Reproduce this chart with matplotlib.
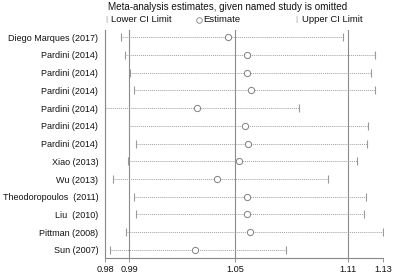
import matplotlib
matplotlib.use("Agg")
import matplotlib.pyplot as plt

studies = ["Diego Marques (2017)", "Pardini (2014)", "Pardini (2014)", "Pardini (2014)",
           "Pardini (2014)", "Pardini (2014)", "Pardini (2014)", "Xiao (2013)", "Wu (2013)",
           "Theodoropoulos  (2011)", "Liu  (2010)", "Pittman (2008)", "Sun (2007)"]
lower = [0.9895, 0.9916, 0.9942, 0.9964, 0.9810, 0.9937, 0.9974, 0.9932, 0.9852,
         0.9964, 0.9974, 0.9921, 0.9836]
estimate = [1.0463, 1.0564, 1.0564, 1.0585, 1.0298, 1.0553, 1.0569, 1.0521, 1.0404,
            1.0564, 1.0564, 1.0580, 1.0288]
upper = [1.1074, 1.1244, 1.1222, 1.1244, 1.0840, 1.1206, 1.1201, 1.1148, 1.0994,
         1.1196, 1.1185, 1.1286, 1.0771]

# overall estimate and CI (reference lines), plus axis ends
ref_lines = [0.9937, 1.05, 1.11]
tick_vals = [0.981, 0.9937, 1.05, 1.11, 1.1286]
tick_labels = ["0.98", "0.99", "1.05", "1.11", "1.13"]

plt.rcParams['font.family'] = ['Liberation Sans', 'DejaVu Sans']
fig = plt.figure(figsize=(3.98, 2.75), dpi=100)
ax = fig.add_axes([0.264, 0.062, 0.698, 0.829])

y = list(range(1, len(studies) + 1))
lc = "#a0a0a0"
for i in range(len(studies)):
    ax.plot([lower[i], upper[i]], [y[i], y[i]], ls=(0, (1, 1)), color=lc, lw=0.7)
ax.plot(lower, y, ls="none", marker="|", ms=6, mew=0.8, color="#999999")
ax.plot(upper, y, ls="none", marker="|", ms=6, mew=0.8, color="#999999")
ax.plot(estimate, y, ls="none", marker="o", ms=4.5, mfc="white", mec="#808080", mew=0.7)

for v in ref_lines:
    ax.axvline(v, color="#8c8c8c", lw=0.8, zorder=0)

ax.set_xlim(tick_vals[0], tick_vals[-1])
ax.set_ylim(13.45, 0.6)
ax.set_yticks(y)
ax.set_yticklabels(studies, fontsize=6.5, color="#111111")
ax.set_xticks(tick_vals)
ax.set_xticklabels(tick_labels, fontsize=6.6, color="#111111")
ax.tick_params(axis="y", length=0, pad=5)
ax.tick_params(axis="x", length=3, width=0.6, color="#888888", pad=2)
for s in ["top", "right"]:
    ax.spines[s].set_visible(False)
for s in ["left", "bottom"]:
    ax.spines[s].set_color("#888888")
    ax.spines[s].set_linewidth(0.8)

fig.text(0.271, 0.975, "Meta-analysis estimates, given named study is omitted",
         fontsize=7.1, color="#111111", va="center", ha="left")
fig.text(0.265, 0.928, "|", fontsize=6, color="#999999", va="center")
fig.text(0.279, 0.928, "Lower CI Limit", fontsize=6.8, color="#111111", va="center")
ax.plot([0.500], [0.928], transform=fig.transFigure, marker="o", ms=4, mfc="white",
        mec="#808080", mew=0.6, clip_on=False)
fig.text(0.510, 0.928, "Estimate", fontsize=6.8, color="#111111", va="center")
fig.text(0.742, 0.928, "|", fontsize=6, color="#999999", va="center")
fig.text(0.759, 0.928, "Upper CI Limit", fontsize=6.8, color="#111111", va="center")

fig.savefig("out.png", dpi=100)
